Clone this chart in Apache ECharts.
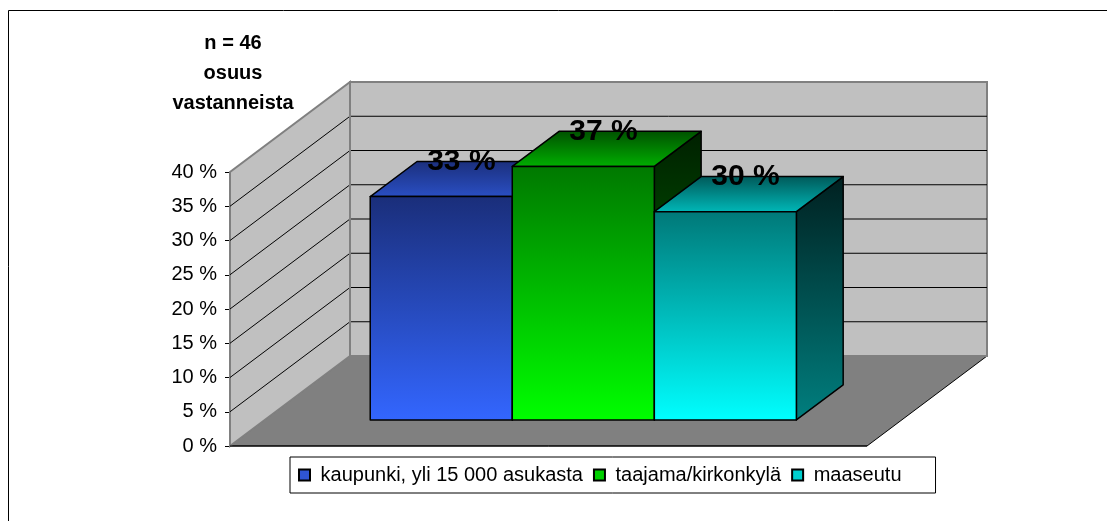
<!DOCTYPE html>
<html>
<head>
<meta charset="utf-8">
<script src="https://cdn.jsdelivr.net/npm/echarts@6/dist/echarts.min.js"></script>
<style>
  html, body { margin: 0; padding: 0; background: #fff; }
  #chart { width: 1107px; height: 521px; }
</style>
</head>
<body>
<div id="chart"></div>
<script>
// Share of respondents by place of residence (n = 46), drawn as Excel-style 3D columns.
var categories = ["kaupunki, yli 15 000 asukasta", "taajama/kirkonkylä", "maaseutu"];
var shares = [32.6, 37.0, 30.4];
var shareLabels = ["33 %", "37 %", "30 %"];
var gridLevels = [5, 10, 15, 20, 25, 30, 35];

var FONT = "'Liberation Sans', Arial, sans-serif";
var DEPTH = [120, -90];          // full floor depth offset (px)
var BAR_FRONT = 0.29, BAR_BACK = 0.68;
var BAR_W = 0.223;               // share of category band per bar

function grad(a, b) {
  return new echarts.graphic.LinearGradient(0, 0, 0, 1, [{ offset: 0, color: a }, { offset: 1, color: b }]);
}
var looks = [
  { legend: "#2f55d4", front: ["#1a2e7a", "#3366ff"], top: ["#1b2f7c", "#2a4fc4"], side: ["#0c1638", "#1a3380"] },
  { legend: "#00d000", front: ["#007800", "#00ff00"], top: ["#005000", "#00b000"], side: ["#002000", "#007f00"] },
  { legend: "#00d0d0", front: ["#007878", "#00ffff"], top: ["#005858", "#00b8b8"], side: ["#002020", "#007f7f"] }
];

function wallsItem(params, api) {
  var bw = api.size([1, 0])[0];
  var p0 = api.coord([0, 0]), p40 = api.coord([0, 40]);
  var x0 = p0[0] - bw / 2, x1 = p0[0] + bw / 2, y0 = p0[1], yt = p40[1];
  var dx = DEPTH[0], dy = DEPTH[1];
  var kids = [
    { type: "polygon", shape: { points: [[x0, y0], [x0 + dx, y0 + dy], [x1 + dx, y0 + dy], [x1, y0]] },
      style: { fill: "#808080", stroke: "#000", lineWidth: 1 } },
    { type: "polygon", shape: { points: [[x0, y0], [x0, yt], [x0 + dx, yt + dy], [x0 + dx, y0 + dy]] },
      style: { fill: "#c0c0c0", stroke: "#808080", lineWidth: 2 } },
    { type: "rect", shape: { x: x0 + dx, y: yt + dy, width: bw, height: y0 - yt },
      style: { fill: "#c0c0c0", stroke: "#808080", lineWidth: 2 } }
  ];
  gridLevels.forEach(function (v) {
    var y = api.coord([0, v])[1];
    kids.push({ type: "line", shape: { x1: x0, y1: y, x2: x0 + dx, y2: y + dy }, style: { stroke: "#000", lineWidth: 1 } });
    kids.push({ type: "line", shape: { x1: x0 + dx, y1: y + dy, x2: x1 + dx, y2: y + dy }, style: { stroke: "#000", lineWidth: 1 } });
  });
  // floor front edge + back-left corner
  kids.push({ type: "line", shape: { x1: x0, y1: y0, x2: x1, y2: y0 }, style: { stroke: "#000", lineWidth: 1 } });
  kids.push({ type: "line", shape: { x1: x0 + dx, y1: y0 + dy, x2: x0 + dx, y2: yt + dy }, style: { stroke: "#808080", lineWidth: 2 } });
  return { type: "group", children: kids };
}

function barItem(i) {
  return function (params, api) {
    var bw = api.size([1, 0])[0];
    var top = api.coord([0, api.value(1)]);
    var base = api.coord([0, 0]);
    var w = bw * BAR_W;
    var x = top[0] - 1.5 * w + i * w;
    var fx = DEPTH[0] * BAR_FRONT, fy = DEPTH[1] * BAR_FRONT;
    var bx = DEPTH[0] * (BAR_BACK - BAR_FRONT), by = DEPTH[1] * (BAR_BACK - BAR_FRONT);
    var L = x + fx, R = L + w, T = top[1] + fy, B = base[1] + fy;
    var lk = looks[i];
    var edge = { stroke: "#000", lineWidth: 1.5, lineJoin: "round" };
    return {
      type: "group",
      children: [
        { type: "polygon", shape: { points: [[R, T], [R + bx, T + by], [R + bx, B + by], [R, B]] },
          style: Object.assign({ fill: grad(lk.side[0], lk.side[1]) }, edge) },
        { type: "polygon", shape: { points: [[L, T], [L + bx, T + by], [R + bx, T + by], [R, T]] },
          style: Object.assign({ fill: grad(lk.top[0], lk.top[1]) }, edge) },
        { type: "rect", shape: { x: L, y: T, width: w, height: B - T },
          style: Object.assign({ fill: grad(lk.front[0], lk.front[1]) }, edge) },
        { type: "text", x: L + w / 2 + bx * 0.43, y: T + by,
          style: { text: shareLabels[i], font: "bold 30px " + FONT, fill: "#000", align: "center", verticalAlign: "middle" } }
      ]
    };
  };
}

var series = [{
  name: "walls", type: "custom", z: 1, silent: true, clip: false,
  renderItem: wallsItem, data: [[0, 0]]
}];
categories.forEach(function (name, i) {
  series.push({
    name: name, type: "custom", z: 2, clip: false,
    itemStyle: { color: looks[i].legend, borderColor: "#000", borderWidth: 1 },
    renderItem: barItem(i), data: [[0, shares[i]]]
  });
});

var chart = echarts.init(document.getElementById("chart"));
chart.setOption({
  animation: false,
  title: {
    text: "n = 46\nosuus\nvastanneista", left: 228, top: 23, textAlign: "center",
    textStyle: { fontFamily: FONT, fontSize: 20, fontWeight: "bold", color: "#000", lineHeight: 30 }
  },
  graphic: [{ type: "rect", shape: { x: 8.5, y: 10.5, width: 1200, height: 600 },
    style: { fill: null, stroke: "#000", lineWidth: 1 }, silent: true }],
  grid: { left: 230, top: 172, width: 637, height: 274 },
  xAxis: { type: "category", data: ["all"], show: false },
  yAxis: {
    type: "value", min: 0, max: 40, interval: 5,
    axisLine: { show: true, lineStyle: { color: "#000", width: 1 } },
    axisTick: { show: true, length: 5, lineStyle: { color: "#000" } },
    splitLine: { show: false },
    axisLabel: { formatter: "{value} %", fontFamily: FONT, fontSize: 20, color: "#000", margin: 13 }
  },
  legend: {
    data: categories, left: 290, top: 457, icon: "rect", itemWidth: 11, itemHeight: 11, itemGap: 10,
    padding: [8, 34, 8, 8], borderColor: "#000", borderWidth: 1, backgroundColor: "#fff",
    formatter: function (name) { return " " + name; },
    textStyle: { fontFamily: FONT, fontSize: 20, color: "#000" }
  },
  series: series
});
</script>
</body>
</html>
